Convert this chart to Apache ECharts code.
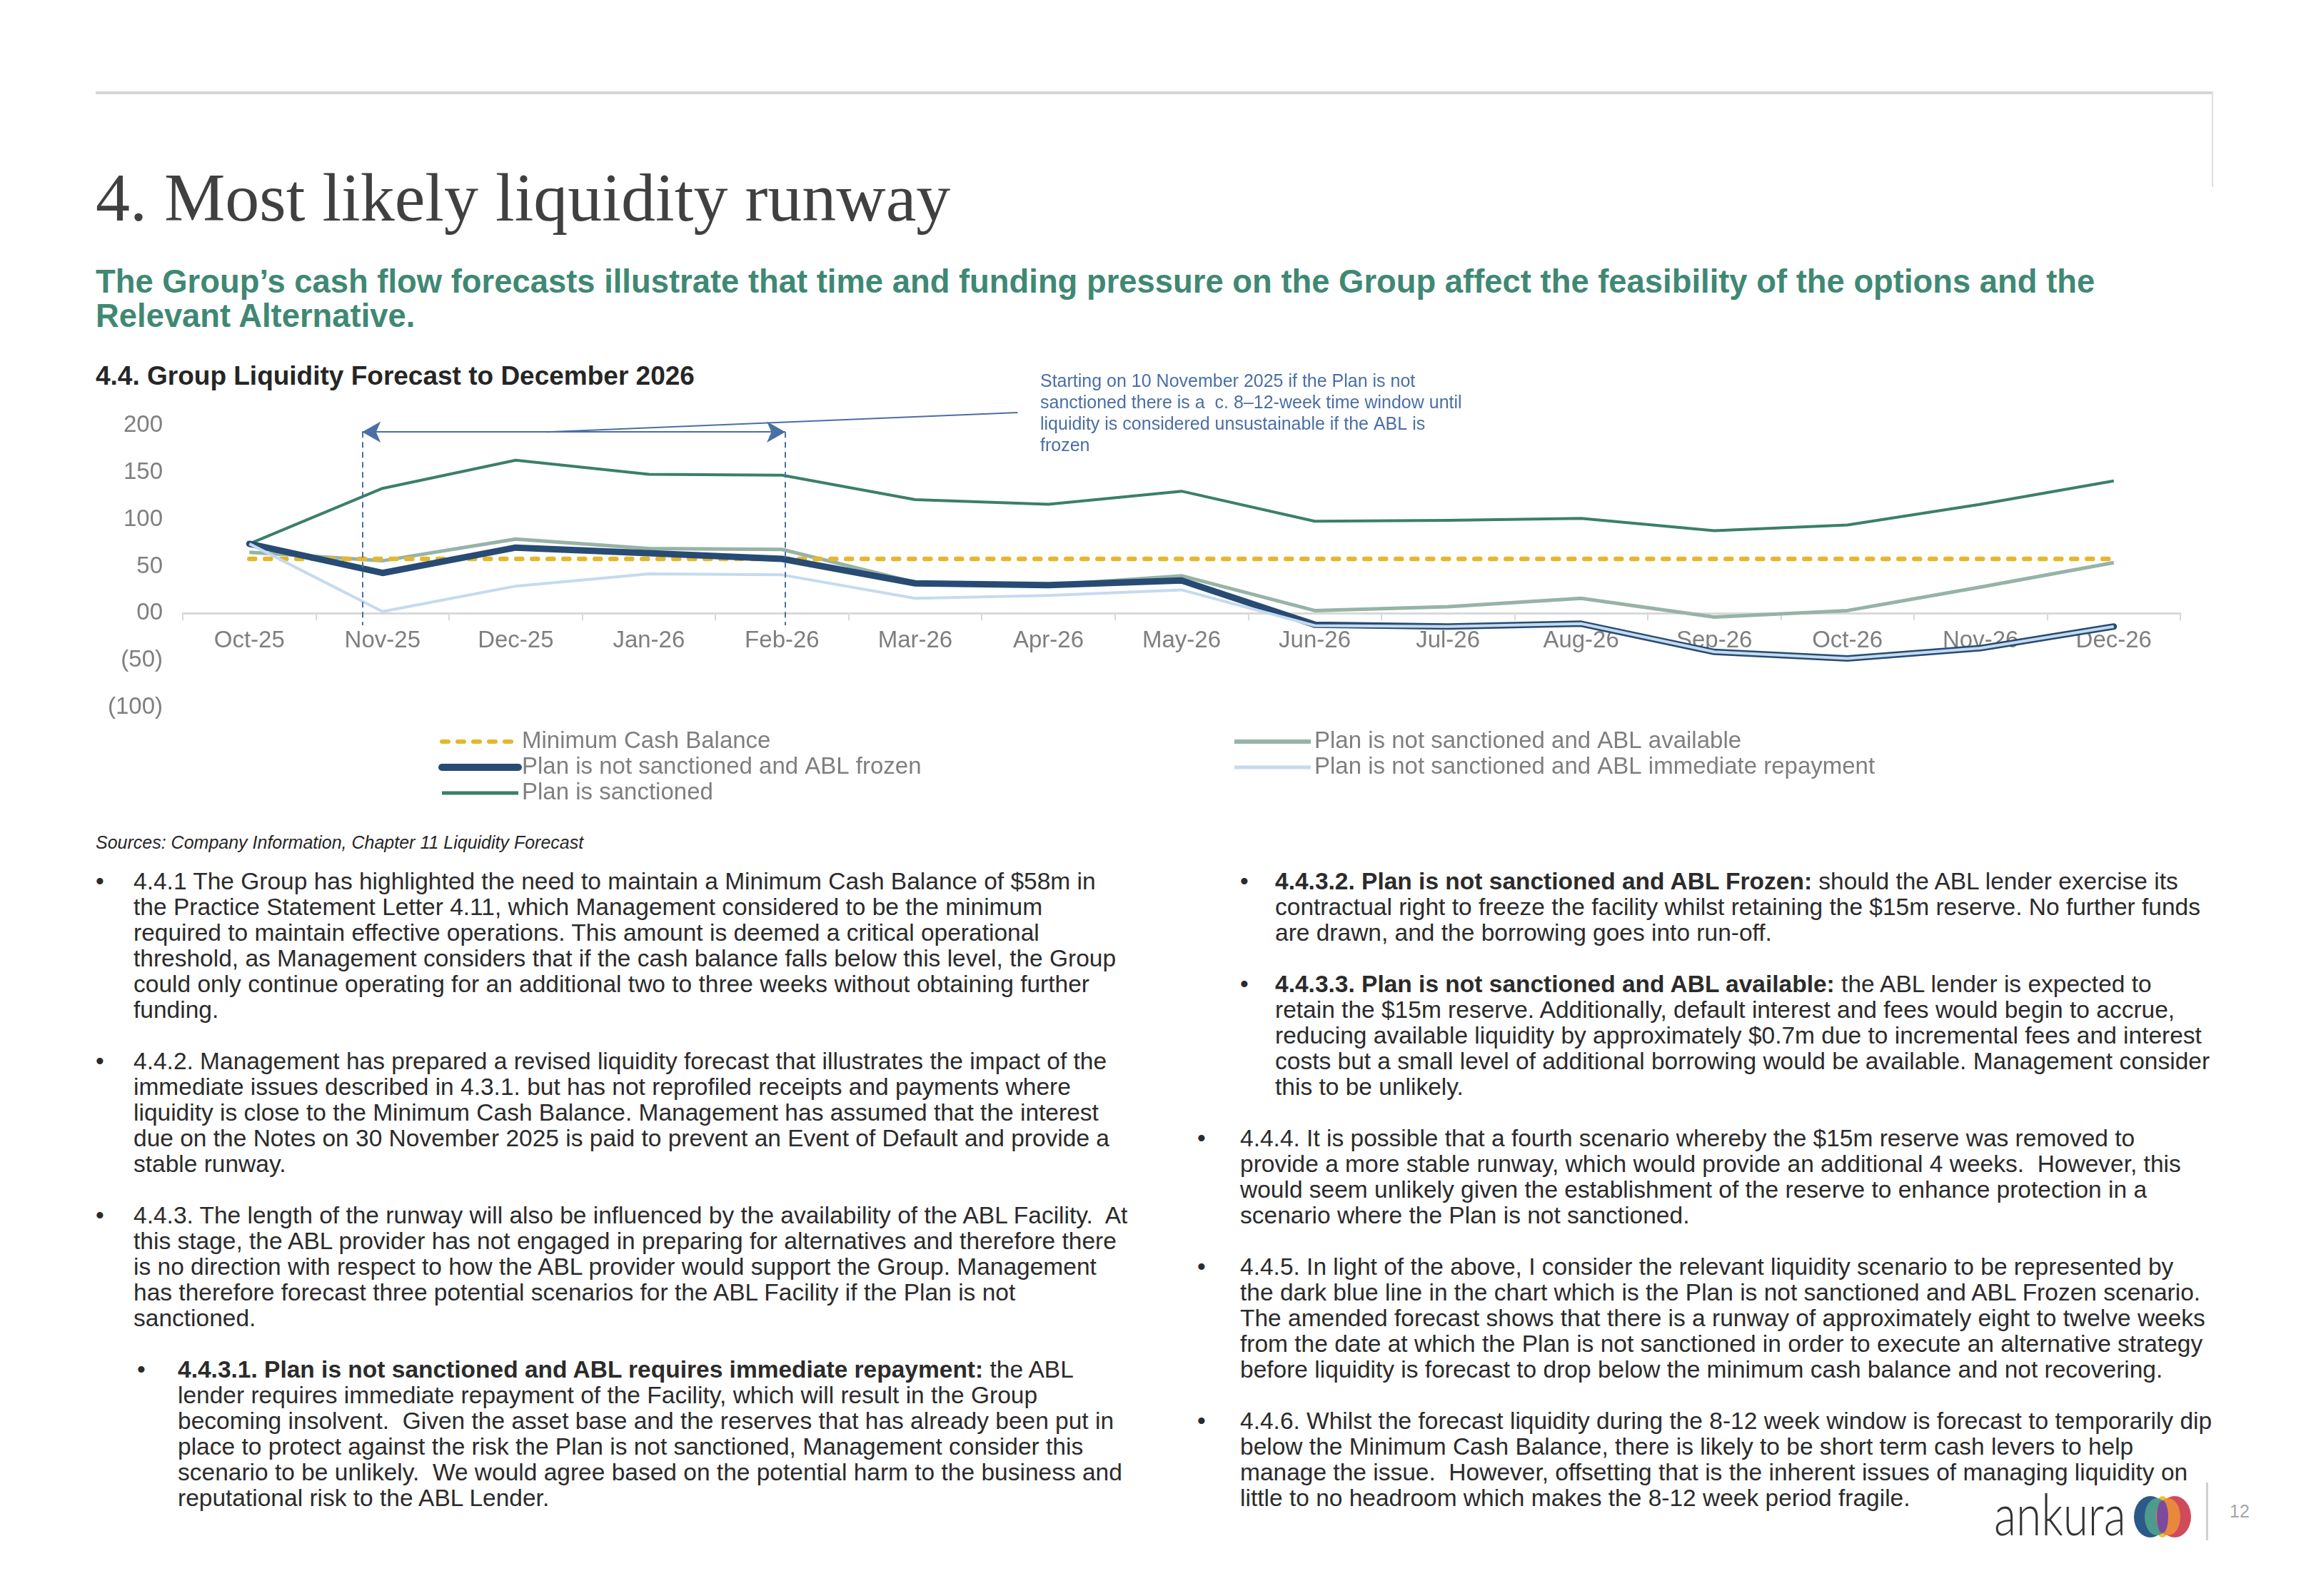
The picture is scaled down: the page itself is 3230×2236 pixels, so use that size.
<!DOCTYPE html>
<html>
<head>
<meta charset="utf-8">
<script src="https://cdn.jsdelivr.net/npm/echarts@6/dist/echarts.min.js"></script>
<style>
html,body{margin:0;padding:0;background:#fff;}
body{width:3230px;height:2236px;position:relative;overflow:hidden;font-family:Arial,"Liberation Sans",sans-serif;}
.abs{position:absolute;white-space:nowrap;}
#chart{position:absolute;left:0;top:0;width:3230px;height:2236px;z-index:2;}
.ln{position:absolute;white-space:nowrap;font-size:33.5px;line-height:36px;height:36px;color:#2b2b2b;}
</style>
</head>
<body>
<div class="abs" style="left:134px;top:128px;width:2966px;height:4px;background:#d6d6d6;"></div>
<div class="abs" style="left:3098px;top:128px;width:2px;height:134px;background:#dedede;"></div>
<div class="abs" style="left:134px;top:229px;font-family:'Liberation Serif',serif;font-size:96px;line-height:96px;color:#404040;">4. Most likely liquidity runway</div>
<div class="abs" style="left:134px;top:371px;font-size:45.4px;line-height:48px;font-weight:bold;color:#3f8874;">The Group’s cash flow forecasts illustrate that time and funding pressure on the Group affect the feasibility of the options and the<br>Relevant Alternative.</div>
<div class="abs" style="left:134px;top:505px;font-size:37px;line-height:44px;font-weight:bold;color:#262626;">4.4. Group Liquidity Forecast to December 2026</div>
<div class="abs" style="left:134px;top:1165px;font-size:25px;line-height:30px;font-style:italic;color:#262626;">Sources: Company Information, Chapter 11 Liquidity Forecast</div>

<div id="bodytext"></div>

<div class="abs" style="left:2793px;top:2072px;font-family:Lato,'Open Sans',sans-serif;font-weight:300;font-size:80px;line-height:96px;color:#333;transform:scaleX(0.8);transform-origin:0 0;">ankura</div>
<svg class="abs" style="left:2989px;top:2096px;" width="80" height="58" viewBox="0 0 80 58">
  <ellipse cx="23" cy="29" rx="23" ry="29" fill="#2b5a88"/>
  <ellipse cx="57" cy="29" rx="23" ry="29" fill="#d04a5c"/>
  <ellipse cx="40" cy="29" rx="12" ry="29" fill="#f2c230"/>
  <ellipse cx="32" cy="29" rx="17" ry="26" fill="#4e9a8c"/>
  <ellipse cx="48" cy="29" rx="17" ry="26" fill="#e8883c"/>
  <ellipse cx="40" cy="29" rx="8" ry="23" fill="#7b4a9e"/>
</svg>
<div class="abs" style="left:3090px;top:2077px;width:3px;height:81px;background:#d0d0d0;"></div>
<div class="abs" style="left:3123px;top:2102px;font-size:25px;line-height:30px;color:#a6a6a6;">12</div>

<div id="chart"></div>

<script>
// ---------- Chart data ----------
const categories = ['Oct-25','Nov-25','Dec-25','Jan-26','Feb-26','Mar-26','Apr-26','May-26','Jun-26','Jul-26','Aug-26','Sep-26','Oct-26','Nov-26','Dec-26'];
const minimumCashBalance = [58,58,58,58,58,58,58,58,58,58,58,58,58,58,58];
const planSanctioned = [74,133,163,148,147,121,116,130,98,99,101,88,94,116,141];
const ablAvailable = [65,56,79,69,68,33,30,40,3,7,16,-4,3,28,54];
const ablFrozen = [74,43,70,64,58,32,30,35,-12,-14,-11,-41,-48,-37,-14];
const ablImmediateRepayment = [74,2,29,42,41,16,19,25,-13,-14,-11,-41,-48,-37,-14];
const yMin = -100, yMax = 200, yStep = 50;

// annotation (in category-index / value space)
const windowStart = 0.847;   // ~10 Nov 2025
const windowEnd = 4.025;     // ~Feb 2026
const arrowLevel = 193;
const dashBottom = -12.7;
const leaderLine = [[2.235, 193], [5.77, 213.6]];
const annotationText = 'Starting on 10 November 2025 if the Plan is not\nsanctioned there is a  c. 8–12-week time window until\nliquidity is considered unsustainable if the ABL is\nfrozen';

// ---------- Body text ----------
const leftParas = [
  {sub:false, k:0, lines:[
    '4.4.1 The Group has highlighted the need to maintain a Minimum Cash Balance of $58m in',
    'the Practice Statement Letter 4.11, which Management considered to be the minimum',
    'required to maintain effective operations. This amount is deemed a critical operational',
    'threshold, as Management considers that if the cash balance falls below this level, the Group',
    'could only continue operating for an additional two to three weeks without obtaining further',
    'funding.']},
  {sub:false, k:7, lines:[
    '4.4.2. Management has prepared a revised liquidity forecast that illustrates the impact of the',
    'immediate issues described in 4.3.1. but has not reprofiled receipts and payments where',
    'liquidity is close to the Minimum Cash Balance. Management has assumed that the interest',
    'due on the Notes on 30 November 2025 is paid to prevent an Event of Default and provide a',
    'stable runway.']},
  {sub:false, k:13, lines:[
    '4.4.3. The length of the runway will also be influenced by the availability of the ABL Facility.&nbsp; At',
    'this stage, the ABL provider has not engaged in preparing for alternatives and therefore there',
    'is no direction with respect to how the ABL provider would support the Group. Management',
    'has therefore forecast three potential scenarios for the ABL Facility if the Plan is not',
    'sanctioned.']},
  {sub:true, k:19, lines:[
    '<b>4.4.3.1. Plan is not sanctioned and ABL requires immediate repayment:</b> the ABL',
    'lender requires immediate repayment of the Facility, which will result in the Group',
    'becoming insolvent.&nbsp; Given the asset base and the reserves that has already been put in',
    'place to protect against the risk the Plan is not sanctioned, Management consider this',
    'scenario to be unlikely.&nbsp; We would agree based on the potential harm to the business and',
    'reputational risk to the ABL Lender.']}
];
const rightParas = [
  {sub:true, k:0, lines:[
    '<b>4.4.3.2. Plan is not sanctioned and ABL Frozen:</b> should the ABL lender exercise its',
    'contractual right to freeze the facility whilst retaining the $15m reserve. No further funds',
    'are drawn, and the borrowing goes into run-off.']},
  {sub:true, k:4, lines:[
    '<b>4.4.3.3. Plan is not sanctioned and ABL available:</b> the ABL lender is expected to',
    'retain the $15m reserve. Additionally, default interest and fees would begin to accrue,',
    'reducing available liquidity by approximately $0.7m due to incremental fees and interest',
    'costs but a small level of additional borrowing would be available. Management consider',
    'this to be unlikely.']},
  {sub:false, k:10, lines:[
    '4.4.4. It is possible that a fourth scenario whereby the $15m reserve was removed to',
    'provide a more stable runway, which would provide an additional 4 weeks.&nbsp; However, this',
    'would seem unlikely given the establishment of the reserve to enhance protection in a',
    'scenario where the Plan is not sanctioned.']},
  {sub:false, k:15, lines:[
    '4.4.5. In light of the above, I consider the relevant liquidity scenario to be represented by',
    'the dark blue line in the chart which is the Plan is not sanctioned and ABL Frozen scenario.',
    'The amended forecast shows that there is a runway of approximately eight to twelve weeks',
    'from the date at which the Plan is not sanctioned in order to execute an alternative strategy',
    'before liquidity is forecast to drop below the minimum cash balance and not recovering.']},
  {sub:false, k:21, lines:[
    '4.4.6. Whilst the forecast liquidity during the 8-12 week window is forecast to temporarily dip',
    'below the Minimum Cash Balance, there is likely to be short term cash levers to help',
    'manage the issue.&nbsp; However, offsetting that is the inherent issues of managing liquidity on',
    'little to no headroom which makes the 8-12 week period fragile.']}
];
(function buildBody(){
  const host = document.getElementById('bodytext');
  const top0 = 1217, lh = 36;
  function add(paras, mainB, mainT, subB, subT){
    paras.forEach(p => {
      const bx = p.sub ? subB : mainB, tx = p.sub ? subT : mainT;
      const bul = document.createElement('div');
      bul.className = 'ln'; bul.style.left = bx + 'px'; bul.style.top = (top0 + p.k*lh) + 'px';
      bul.textContent = '•';
      host.appendChild(bul);
      p.lines.forEach((t, i) => {
        const d = document.createElement('div');
        d.className = 'ln'; d.style.left = tx + 'px'; d.style.top = (top0 + (p.k + i)*lh) + 'px';
        d.innerHTML = t;
        host.appendChild(d);
      });
    });
  }
  add(leftParas, 134, 187, 192, 249);
  add(rightParas, 1677, 1737, 1737, 1786);
})();

// ---------- Chart ----------
const FONT = 'Arial, "Liberation Sans", sans-serif';
const C = {
  min:'#e4b72f', frozen:'#284b73', sanct:'#3b7f6b', avail:'#97b3a6', repay:'#c5daef', annot:'#4a6fa5'
};
const chart = echarts.init(document.getElementById('chart'), null, {renderer:'canvas'});
const base = {type:'line', symbol:'none', showSymbol:false, smooth:false, silent:true, emphasis:{disabled:true}};
const legendCommon = {orient:'vertical', top:1021, padding:0, itemWidth:107, itemHeight:14, itemGap:0, selectedMode:false,
  itemStyle:{opacity:0, borderWidth:0},
  textStyle:{color:'#7f7f7f', fontSize:33, fontFamily:FONT, lineHeight:36}};
chart.setOption({
  animation:false,
  backgroundColor:'transparent',
  grid:{left:256, right:176, top:596, bottom:1245, containLabel:false},
  xAxis:[
    {type:'category', data:categories, boundaryGap:true,
     axisLine:{onZero:true, lineStyle:{color:'#d9d9d9', width:3}},
     axisTick:{show:true, length:10, lineStyle:{color:'#d9d9d9', width:2}},
     axisLabel:{color:'#7f7f7f', fontSize:33, fontFamily:FONT, margin:-110, interval:0},
     splitLine:{show:false}},
    {type:'value', min:-0.5, max:14.5, show:false, axisLine:{onZero:false}}
  ],
  yAxis:{type:'value', min:yMin, max:yMax, interval:yStep,
    axisLine:{show:false, onZero:false}, axisTick:{show:false}, splitLine:{show:false},
    axisLabel:{color:'#7f7f7f', fontSize:33, fontFamily:FONT, margin:28,
      formatter: v => v < 0 ? '(' + (-v) + ')' : (v === 0 ? '00' : String(v))}},
  legend:[
    Object.assign({}, legendCommon, {left:614,
     data:[{name:'Minimum Cash Balance', lineStyle:{width:6, type:[9,13], cap:'round', color:C.min}},
           {name:'Plan is not sanctioned and ABL frozen', lineStyle:{width:10, cap:'round', color:C.frozen}},
           {name:'Plan is sanctioned', lineStyle:{width:5, color:C.sanct}}]}),
    Object.assign({}, legendCommon, {left:1726,
     data:[{name:'Plan is not sanctioned and ABL available', lineStyle:{width:6, color:C.avail}},
           {name:'Plan is not sanctioned and ABL immediate repayment', lineStyle:{width:5, color:C.repay}}]})
  ],
  graphic:[{type:'text', left:1457, top:520, silent:true,
    style:{text:annotationText, fontSize:25, fontFamily:FONT, fill:C.annot, lineHeight:30}}],
  series:[
    Object.assign({}, base, {name:'Plan is not sanctioned and ABL available', data:ablAvailable, color:C.avail,
      lineStyle:{color:C.avail, width:5, join:'round'}}),
    Object.assign({}, base, {name:'Plan is sanctioned', data:planSanctioned, color:C.sanct,
      lineStyle:{color:C.sanct, width:4, join:'round'}}),
    Object.assign({}, base, {name:'Minimum Cash Balance', data:minimumCashBalance, color:C.min,
      lineStyle:{color:C.min, width:6.5, type:[8,14], cap:'round'}}),
    Object.assign({}, base, {name:'Plan is not sanctioned and ABL frozen', data:ablFrozen, color:C.frozen,
      lineStyle:{color:C.frozen, width:9, join:'round', cap:'round'}}),
    Object.assign({}, base, {name:'Plan is not sanctioned and ABL immediate repayment', data:ablImmediateRepayment, color:C.repay,
      lineStyle:{color:C.repay, width:4, join:'round'}}),
    Object.assign({}, base, {name:'annotation', xAxisIndex:1, yAxisIndex:0, data:leaderLine, clip:false, z:5,
      lineStyle:{color:C.annot, width:2},
      markLine:{silent:true, animation:false, symbol:['none','none'], label:{show:false}, emphasis:{disabled:true},
        lineStyle:{color:C.annot},
        data:[
          [{coord:[windowStart, arrowLevel], symbol:'arrow', symbolSize:[22,26], lineStyle:{type:'solid', width:2, color:C.annot}},
           {coord:[windowEnd, arrowLevel], symbol:'arrow', symbolSize:[22,26]}],
          [{coord:[windowStart, arrowLevel], lineStyle:{type:[8,6], width:2, color:C.annot}}, {coord:[windowStart, dashBottom]}],
          [{coord:[windowEnd, arrowLevel], lineStyle:{type:[8,6], width:2, color:C.annot}}, {coord:[windowEnd, dashBottom]}]
        ]}})
  ]
});
</script>
</body>
</html>
